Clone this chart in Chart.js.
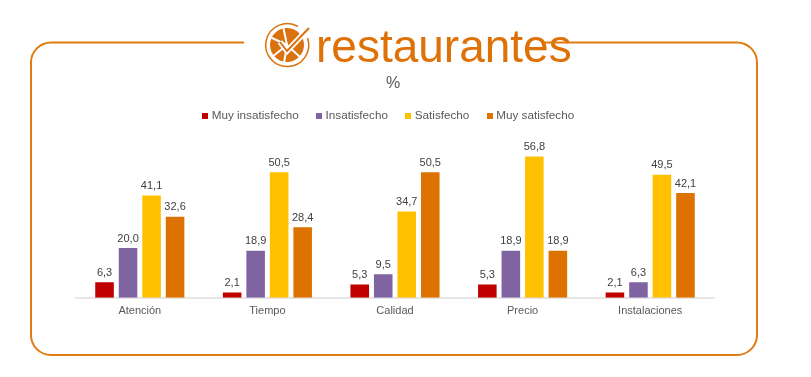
<!doctype html>
<html lang="es">
<head>
  <meta charset="utf-8">
  <title>restaurantes</title>
  <style>
    * { margin: 0; padding: 0; }
    body { background: white; width: 811px; height: 377px; overflow: hidden; position: relative; }
    #chartBox { position: absolute; left: 0; top: 0; width: 811px; height: 377px; }
    #logoText {
      position: absolute; left: 316px; top: 20px;
      font: 46px/53px "Liberation Sans", sans-serif;
      color: #de7208;
    }
    svg { position: absolute; left: 0; top: 0; }
  </style>
</head>
<body>
<div id="chartBox"><canvas id="myChart" width="811" height="377"></canvas></div>
<div id="logoText">restaurantes</div>
<svg width="811" height="377" fill="none">
  <!-- frame, open at the top where the logo sits -->
  <path d="M244 42.5H51a20 20 0 0 0-20 20V335a20 20 0 0 0 20 20H737a20 20 0 0 0 20-20V62.5a20 20 0 0 0-20-20H545" stroke="#e07b10" stroke-width="2"/>
  <!-- logo icon -->
  <path d="M298 26.5A21.5 21.5 0 1 0 307.5 38" stroke="#d9720f" stroke-width="1.5"/>
  <circle cx="287" cy="45" r="17" fill="#d9720f"/>
  <path d="M287 45L283 26M287 45L270 37M287 45L272 57M287 45L284 63M287 45L301 58" stroke="white" stroke-width="2"/>
  <path d="M280 42L287 51L309 28" stroke="white" stroke-width="5.5"/>
  <path d="M280 42L287 51L309 28" stroke="#d9720f" stroke-width="2"/>
</svg>

<script src="https://cdn.jsdelivr.net/npm/chart.js"></script>
<script>
  const categorias = ['Atención', 'Tiempo', 'Calidad', 'Precio', 'Instalaciones'];
  const muyInsatisfecho = [6.3, 2.1, 5.3, 5.3, 2.1];
  const insatisfecho = [20.0, 18.9, 9.5, 18.9, 6.3];
  const satisfecho = [41.1, 50.5, 34.7, 56.8, 49.5];
  const muySatisfecho = [32.6, 28.4, 50.5, 18.9, 42.1];

  const FONT = '"Liberation Sans", sans-serif';

  // small square for the legend: an image, so the text can sit closer than boxWidth + font/2
  function cuadrito(color) {
    const c = document.createElement('canvas');
    c.width = 6;
    c.height = 6;
    const g = c.getContext('2d');
    g.fillStyle = color;
    g.fillRect(0, 0, 6, 6);
    return c;
  }

  // value labels on top of the bars, and legend/title nudged left of the plot centre
  const ajustes = {
    id: 'ajustes',
    afterLayout(chart) {
      chart.legend.left -= 5.5;
      chart.legend.right -= 5.5;
      chart.legend.top -= 3;
      chart.legend.bottom -= 3;
      chart.titleBlock.left -= 2;
      chart.titleBlock.right -= 2;
    },
    afterDatasetsDraw(chart) {
      const ctx = chart.ctx;
      ctx.save();
      ctx.font = '11px ' + FONT;
      ctx.fillStyle = '#404040';
      ctx.textAlign = 'center';
      ctx.textBaseline = 'bottom';
      chart.data.datasets.forEach((ds, i) => {
        chart.getDatasetMeta(i).data.forEach((bar, j) => {
          ctx.fillText(ds.data[j].toFixed(1).replace('.', ','), bar.x, bar.y - 4);
        });
      });
      ctx.restore();
    }
  };

  new Chart(document.getElementById('myChart'), {
    type: 'bar',
    data: {
      labels: categorias,
      datasets: [
        { label: 'Muy insatisfecho', data: muyInsatisfecho, backgroundColor: '#c00000' },
        { label: 'Insatisfecho', data: insatisfecho, backgroundColor: '#8064a2' },
        { label: 'Satisfecho', data: satisfecho, backgroundColor: '#ffc000' },
        { label: 'Muy satisfecho', data: muySatisfecho, backgroundColor: '#dd7200' }
      ]
    },
    options: {
      responsive: false,
      animation: false,
      categoryPercentage: 0.737,
      barPercentage: 0.79,
      layout: { padding: { left: 76, right: 97, top: 74, bottom: 52 } },
      scales: {
        x: {
          grid: { display: false, drawTicks: false },
          border: { color: '#e6e6e6', width: 2 },
          ticks: { color: '#595959', font: { family: FONT, size: 11 }, padding: 7, maxRotation: 0 }
        },
        y: { display: false, min: 0, max: 65.5 }
      },
      plugins: {
        title: {
          display: true,
          text: '%',
          color: '#595959',
          font: { family: FONT, size: 16, weight: 'normal' },
          padding: { top: 0, bottom: 0 }
        },
        legend: {
          position: 'top',
          labels: {
            color: '#595959',
            font: { family: FONT, size: 11.7 },
            usePointStyle: true,
            boxWidth: 1,
            boxHeight: 7,
            padding: 20,
            generateLabels(chart) {
              return Chart.defaults.plugins.legend.labels.generateLabels(chart).map(item => {
                item.pointStyle = cuadrito(item.fillStyle);
                return item;
              });
            }
          }
        },
        tooltip: { enabled: false }
      }
    },
    plugins: [ajustes]
  });
</script>
</body>
</html>
